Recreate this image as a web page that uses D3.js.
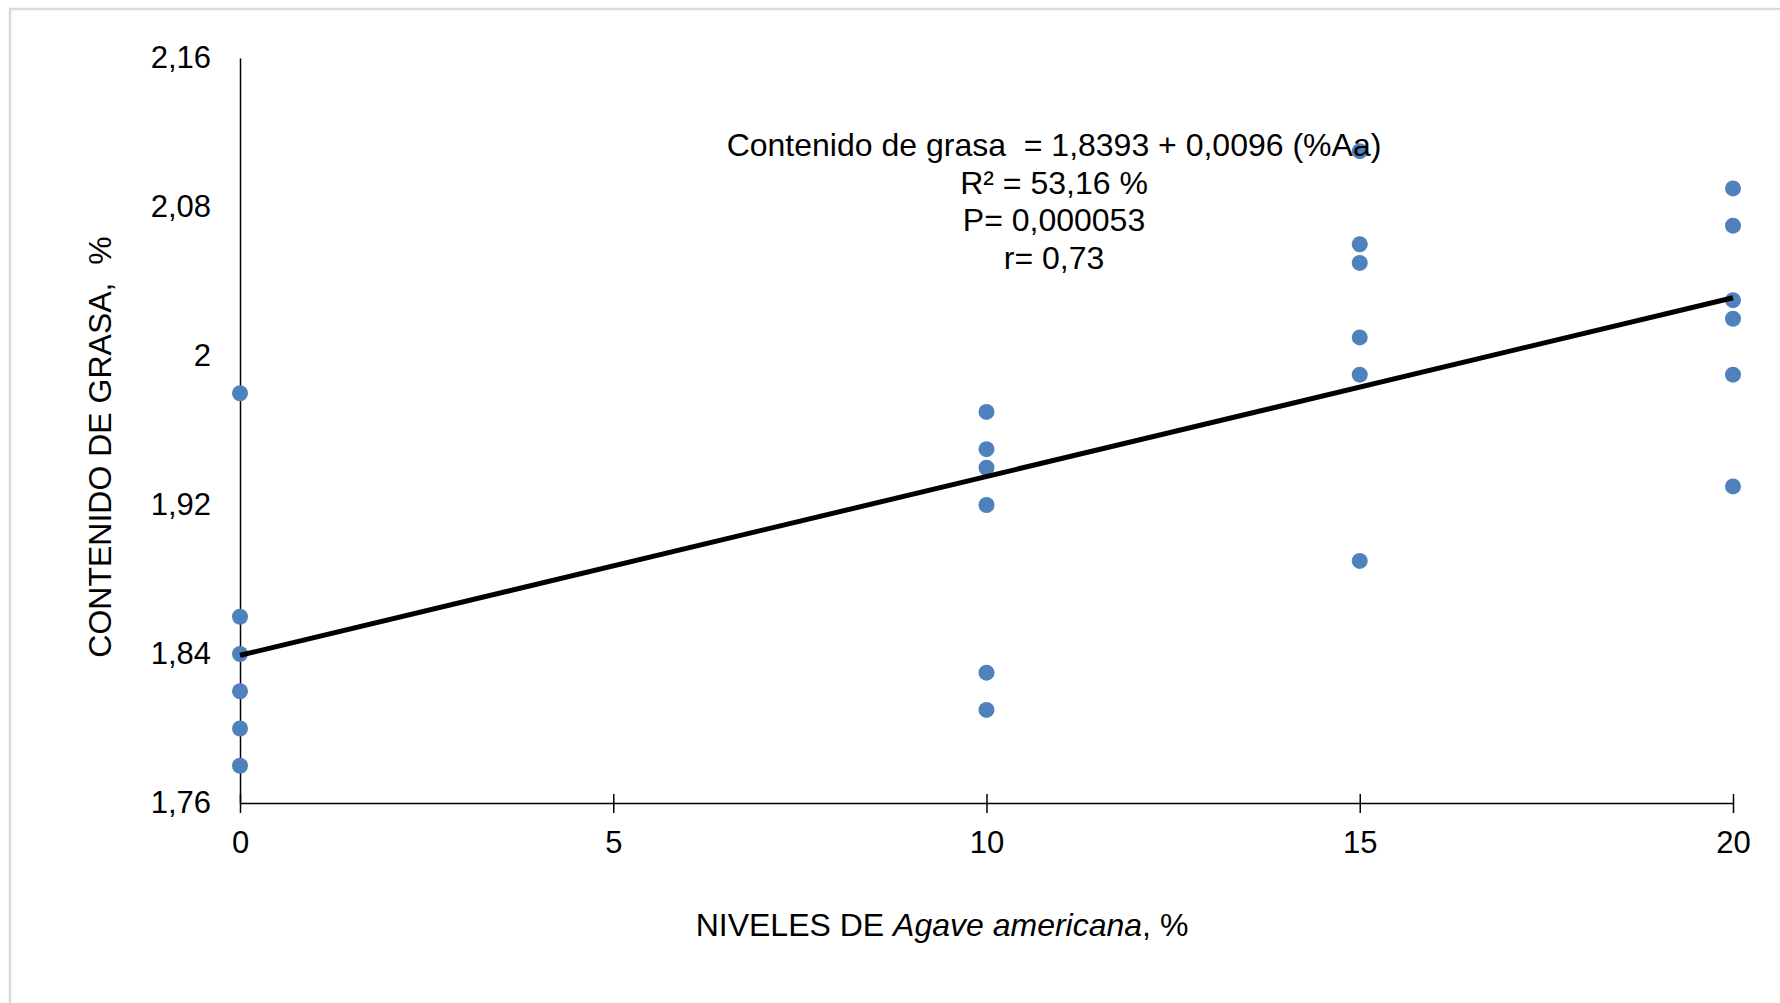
<!DOCTYPE html>
<html>
<head>
<meta charset="utf-8">
<script src="https://cdn.jsdelivr.net/npm/d3@7"></script>
<style>
  html, body { margin: 0; padding: 0; background: #fff; }
  svg { display: block; font-family: "Liberation Sans", Arial, sans-serif; }
</style>
</head>
<body>
<svg id="chart"></svg>
<script>
// Contenido de grasa vs niveles de Agave americana
const xTicks = [0, 5, 10, 15, 20];
const yTicks = [1.76, 1.84, 1.92, 2.00, 2.08, 2.16];

const niveles = [0, 10, 15, 20];
const grasa0 = [1.98, 1.86, 1.84, 1.82, 1.80, 1.78];
const grasa10 = [1.97, 1.95, 1.94, 1.92, 1.83, 1.81];
const grasa15 = [2.11, 2.06, 2.05, 2.01, 1.99, 1.89];
const grasa20 = [2.09, 2.07, 2.03, 2.02, 1.99, 1.93];

const intercepto = 1.8393;
const pendiente = 0.0096;

const ecuacion = [
    'Contenido de grasa  = 1,8393 + 0,0096 (%Aa)',
    'R² = 53,16 %',
    'P= 0,000053',
    'r= 0,73'
];

const WIDTH = 1780;
const HEIGHT = 1003;
const MARGIN = { top: 58, right: 47, bottom: 200, left: 240 };
const DOT_COLOR = '#4F81BD';
const TEXT_COLOR = '#000';
const TICK_FONT = 31;
const LABEL_FONT = 32;

const svg = d3.select('#chart')
    .attr('width', WIDTH)
    .attr('height', HEIGHT);

// light frame of the chart area
svg.append('rect')
    .attr('x', 10)
    .attr('y', 9)
    .attr('width', WIDTH + 20)
    .attr('height', HEIGHT + 20)
    .attr('fill', '#fff')
    .attr('stroke', '#d9d9d9')
    .attr('stroke-width', 2.5);

const width = WIDTH - MARGIN.left - MARGIN.right;
const height = HEIGHT - MARGIN.top - MARGIN.bottom;

const g = svg.append('g')
    .attr('transform', `translate(${MARGIN.left},${MARGIN.top})`);

const xScale = d3.scaleLinear().domain([0, 20]).range([0, width]);
const yScale = d3.scaleLinear().domain([1.76, 2.16]).range([height, 0]);

const fmt = d => String(+d.toFixed(2)).replace('.', ',');

// y axis (no tick marks)
const yAxisGroup = g.append('g')
    .attr('class', 'y-axis')
    .call(d3.axisLeft(yScale).tickValues(yTicks).tickSize(0).tickPadding(29).tickFormat(fmt));

yAxisGroup.select('.domain').attr('stroke', '#000').attr('stroke-width', 1.5);
yAxisGroup.selectAll('text')
    .attr('fill', TEXT_COLOR)
    .style('font-size', TICK_FONT + 'px');

// x axis, tick marks crossing the line
const xAxisGroup = g.append('g')
    .attr('class', 'x-axis')
    .attr('transform', `translate(0,${height})`)
    .call(d3.axisBottom(xScale).tickValues(xTicks).tickSizeOuter(0).tickFormat(d => d));

xAxisGroup.select('.domain').attr('stroke', '#000').attr('stroke-width', 1.5);
xAxisGroup.selectAll('.tick line')
    .attr('y1', -9)
    .attr('y2', 10)
    .attr('stroke', '#000')
    .attr('stroke-width', 1.5);
xAxisGroup.selectAll('.tick text')
    .attr('y', 39)
    .attr('dy', '0.35em')
    .attr('fill', TEXT_COLOR)
    .style('font-size', TICK_FONT + 'px');

// observations
const puntos = [];
[grasa0, grasa10, grasa15, grasa20].forEach((serie, i) => {
    serie.forEach(v => puntos.push({ x: niveles[i], y: v }));
});

g.selectAll('.dot')
    .data(puntos)
    .enter().append('circle')
    .attr('class', 'dot')
    .attr('cx', d => xScale(d.x))
    .attr('cy', d => yScale(d.y))
    .attr('r', 8)
    .attr('fill', DOT_COLOR);

// fitted line
const linea = d3.line()
    .x(d => xScale(d))
    .y(d => yScale(intercepto + pendiente * d));

g.append('path')
    .datum([0, 20])
    .attr('d', linea)
    .attr('fill', 'none')
    .attr('stroke', '#000')
    .attr('stroke-width', 5);

// equation annotation
const nota = svg.append('text')
    .attr('x', 1054)
    .attr('y', 145)
    .attr('text-anchor', 'middle')
    .style('font-size', LABEL_FONT + 'px')
    .style('white-space', 'pre')
    .attr('fill', TEXT_COLOR);

nota.selectAll('tspan')
    .data(ecuacion)
    .enter().append('tspan')
    .attr('x', 1054)
    .attr('dy', (d, i) => i === 0 ? '0.35em' : 37.5)
    .text(d => d);

// axis titles
svg.append('text')
    .attr('transform', 'translate(100,447) rotate(-90)')
    .attr('text-anchor', 'middle')
    .attr('dy', '0.35em')
    .style('font-size', LABEL_FONT + 'px')
    .style('white-space', 'pre')
    .attr('fill', TEXT_COLOR)
    .text('CONTENIDO DE GRASA,  %');

const xTitle = svg.append('text')
    .attr('x', 942)
    .attr('y', 925)
    .attr('text-anchor', 'middle')
    .attr('dy', '0.35em')
    .style('font-size', LABEL_FONT + 'px')
    .attr('fill', TEXT_COLOR);

xTitle.append('tspan').text('NIVELES DE ');
xTitle.append('tspan').style('font-style', 'italic').text('Agave americana');
xTitle.append('tspan').text(', %');
</script>
</body>
</html>
